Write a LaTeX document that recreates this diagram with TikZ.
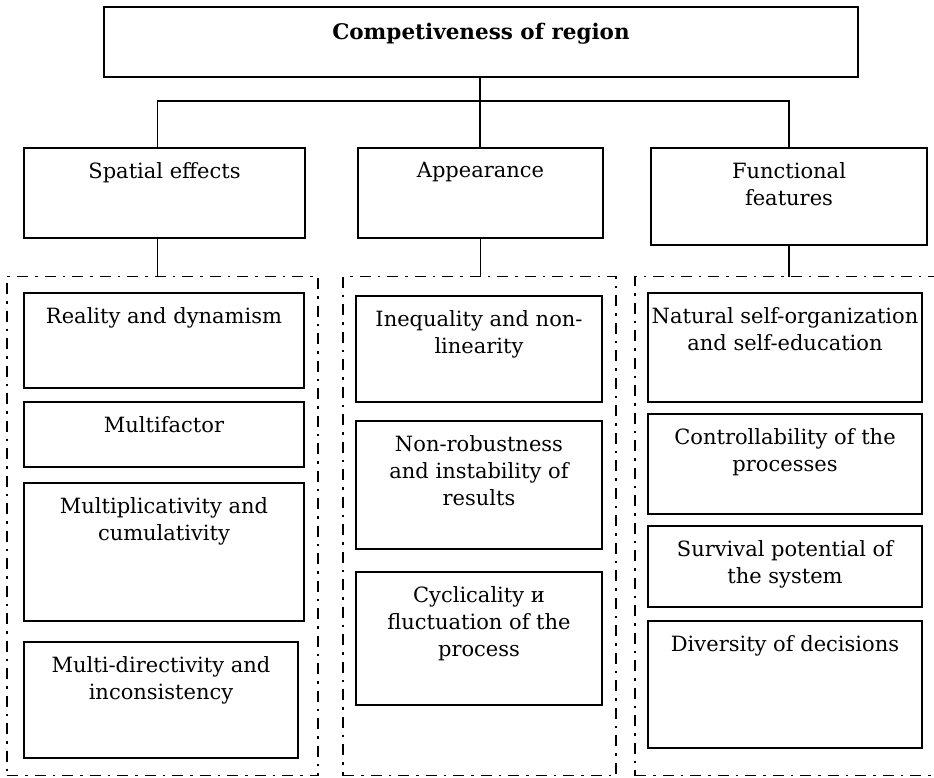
\documentclass[tikz,border=0pt]{standalone}
\usepackage{fontspec}
\setmainfont{DejaVu Serif}
\begin{document}
\begin{tikzpicture}[x=1pt,y=-1pt,
  box/.style={draw, line width=1.5pt, inner sep=0pt, outer sep=0pt},
  grp/.style={draw, line width=1.9pt, dash pattern=on 11pt off 7pt on 2.5pt off 7pt, inner sep=0pt, outer sep=0pt},
  txt/.style={inner sep=0pt, align=center, anchor=north, font=\fontsize{21}{27}\selectfont},
  conn/.style={line width=1.5pt}]
\useasboundingbox (0,0) rectangle (934,778);
\newcommand\bx[6]{\node[box, minimum width={#3-#1}, minimum height={#4-#2}] (#5) at ({(#1+#3)/2},{(#2+#4)/2}) {};
  \node[txt] (#5t) at ([yshift=-14pt]#5.north) {#6};}
\begin{scope}
\clip (0,0) rectangle (934,778);
% top box
\node[box, minimum width=754, minimum height=70] (top) at (481,42) {};
\node[txt, font=\fontsize{21.5}{27}\selectfont\bfseries] (topt) at ([yshift=-16pt]top.north) {Competiveness of region};
% level 2
\bx{24}{148}{305}{238}{sp}{Spatial effects}
\bx{358}{148}{603}{238}{app}{Appearance}
\bx{651}{148}{927}{245}{fn}{Functional\\features}
% group boxes
\node[grp, minimum width=311, minimum height=499] (gl) at (162.5,526) {};
\node[grp, minimum width=273, minimum height=499] (gm) at (479.5,526) {};
\node[grp, minimum width=315, minimum height=499] (gr) at (792.5,526) {};
% connectors
\coordinate (bar) at (480,101);
\draw[conn] (top.south -| bar) -- (app.north -| bar);
\draw[conn] ([xshift=-7pt]sp.north) |- (bar) -| (fn.north);
\draw[conn] ([xshift=-7pt]sp.south) -- ([xshift=-7pt]sp.south |- gl.north);
\draw[conn] (app.south) -- (app.south |- gm.north);
\draw[conn] (fn.south) -- (fn.south |- gr.north);
% left column
\bx{24}{293}{304}{388}{r1}{Reality and dynamism}
\bx{24}{402}{304}{467}{r2}{Multifactor}
\bx{24}{483}{304}{621}{r3}{Multiplicativity and\\cumulativity}
\bx{24}{642}{298}{758}{r4}{Multi-directivity and\\inconsistency}
% middle column
\bx{356}{296}{602}{402}{m1}{Inequality and non-\\linearity}
\bx{356}{421}{602}{549}{m2}{Non-robustness\\and instability of\\results}
\bx{356}{572}{602}{705}{m3}{Cyclicality и\\fluctuation of the\\process}
% right column
\bx{648}{293}{922}{402}{f1}{Natural self-organization\\and self-education}
\bx{648}{414}{922}{514}{f2}{Controllability of the\\processes}
\bx{648}{526}{922}{607}{f3}{Survival potential of\\the system}
\bx{648}{621}{922}{748}{f4}{Diversity of decisions}
\end{scope}
\end{tikzpicture}
\end{document}
